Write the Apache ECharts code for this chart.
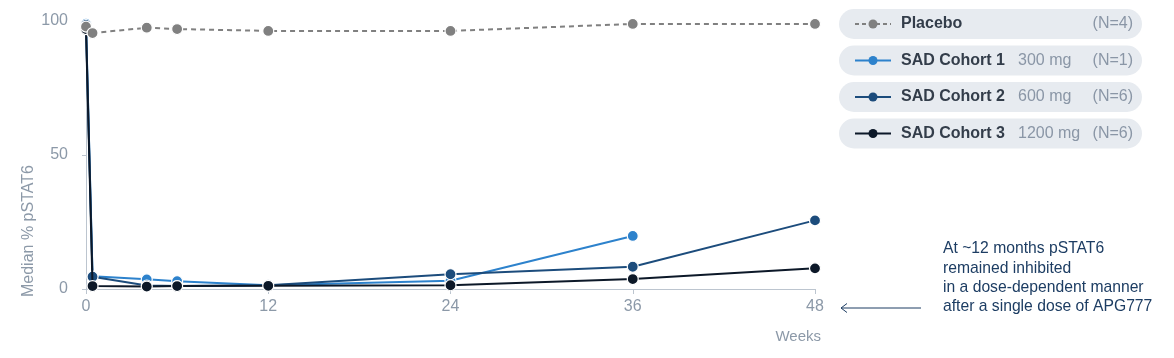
<!DOCTYPE html>
<html>
<head>
<meta charset="utf-8">
<script src="https://cdn.jsdelivr.net/npm/echarts@6/dist/echarts.min.js"></script>
<style>
html,body{margin:0;padding:0;background:#fff;}
#main{width:1174px;height:358px;}
</style>
</head>
<body>
<div id="main"></div>
<script>
// ---- data ----
const weeks = [0, 0.43, 4, 6, 12, 24, 36, 48];
const xTicks = [0, 12, 24, 36, 48];
const yTicks = [0, 50, 100];
const seriesNames = ['Placebo', 'SAD Cohort 1', 'SAD Cohort 2', 'SAD Cohort 3'];
const doses = ['', '300 mg', '600 mg', '1200 mg'];
const counts = ['(N=4)', '(N=1)', '(N=6)', '(N=6)'];
const placebo = [97.9, 95.5, 97.5, 97.0, 96.3, 96.3, 98.9, 98.9];
const cohort1 = [99.0, 4.8, 3.6, 2.9, 1.4, 3.1, 19.8, null];
const cohort2 = [98.5, 4.6, 1.3, 1.1, 1.4, 5.5, 8.3, 25.6];
const cohort3 = [97.0, 1.1, 0.9, 1.1, 1.2, 1.4, 3.7, 7.7];
const annotationLines = [
  'At ~12 months pSTAT6',
  'remained inhibited',
  'in a dose-dependent manner',
  'after a single dose of APG777'
];

// ---- styles ----
const FONT = '"Liberation Sans", Arial, sans-serif';
const colors = ['#808080', '#2d82cc', '#1c4c7c', '#0c1828'];
const axisGrey = '#8c99a8';
const lineGrey = '#bcc5cf';

function pairs(vals) {
  const out = [];
  vals.forEach((v, i) => { if (v !== null) out.push([weeks[i], v]); });
  return out;
}
const allVals = [placebo, cohort1, cohort2, cohort3];

const order = [1, 2, 3, 0];
const series = order.map(i => ({
  name: seriesNames[i],
  type: 'line',
  data: pairs(allVals[i]),
  symbol: 'circle',
  symbolSize: 11,
  z: 2 + (i === 0 ? 4 : i),
  lineStyle: { color: colors[i], width: 2, type: i === 0 ? [5, 4] : 'solid' },
  itemStyle: { color: colors[i], borderColor: '#fff', borderWidth: 1.2 },
  emphasis: { disabled: true },
  animation: false
}));

// legend pills as graphics
const graphics = [];
const pillX = 839, pillY0 = 9, pillW = 303, pillH = 30, pillStep = 36.5;
seriesNames.forEach((name, i) => {
  const y = pillY0 + i * pillStep;
  const cy = y + pillH / 2;
  graphics.push({ type: 'rect', left: pillX, top: y, shape: { width: pillW, height: pillH, r: 15 }, style: { fill: '#e7ebf0' }, silent: true });
  graphics.push({ type: 'line', shape: { x1: 855, y1: cy, x2: 891, y2: cy },
    style: { stroke: colors[i], lineWidth: 2, lineDash: i === 0 ? [4, 3] : null }, silent: true });
  graphics.push({ type: 'circle', shape: { cx: 873, cy: cy, r: 4.5 }, style: { fill: colors[i] }, silent: true });
  graphics.push({ type: 'text', x: 901, y: cy, style: { text: name, font: 'bold 16px ' + FONT, fill: '#333d4a', textVerticalAlign: 'middle' }, silent: true });
  if (doses[i]) graphics.push({ type: 'text', x: 1018, y: cy, style: { text: doses[i], font: '16px ' + FONT, fill: '#8a96a6', textVerticalAlign: 'middle' }, silent: true });
  graphics.push({ type: 'text', x: 1133, y: cy, style: { text: counts[i], font: '16px ' + FONT, fill: '#8a96a6', textAlign: 'right', textVerticalAlign: 'middle' }, silent: true });
});
// annotation
annotationLines.forEach((t, k) => {
  graphics.push({ type: 'text', x: 943, y: 249 + k * 19.3, style: { text: t, font: '15.7px ' + FONT, fill: '#1d3d63', textVerticalAlign: 'middle' }, silent: true });
});
graphics.push({ type: 'line', shape: { x1: 841, y1: 308, x2: 921, y2: 308 }, style: { stroke: '#1d3d63', lineWidth: 1 }, silent: true });
graphics.push({ type: 'polyline', shape: { points: [[847, 303.5], [841, 308], [847, 312.5]] }, style: { stroke: '#1d3d63', lineWidth: 1, fill: null }, silent: true });
// axis titles
graphics.push({ type: 'text', x: 29, y: 297, rotation: Math.PI / 2, style: { text: 'Median % pSTAT6', font: '16px ' + FONT, fill: axisGrey, textAlign: 'left', textVerticalAlign: 'middle' }, silent: true });
graphics.push({ type: 'text', x: 821, y: 337, style: { text: 'Weeks', font: '15px ' + FONT, fill: axisGrey, textAlign: 'right', textVerticalAlign: 'middle' }, silent: true });

const chart = echarts.init(document.getElementById('main'), null, { renderer: 'canvas' });
chart.setOption({
  animation: false,
  backgroundColor: '#ffffff',
  textStyle: { fontFamily: FONT },
  grid: { left: 86, right: 359, top: 21, bottom: 69, containLabel: false },
  xAxis: {
    type: 'value', min: xTicks[0], max: xTicks[xTicks.length - 1], interval: 12,
    axisLine: { show: true, lineStyle: { color: lineGrey, width: 1 } },
    axisTick: { show: true, length: 5, lineStyle: { color: lineGrey } },
    splitLine: { show: false },
    axisLabel: { color: axisGrey, fontSize: 16, margin: 10, fontFamily: FONT }
  },
  yAxis: {
    type: 'value', min: yTicks[0], max: yTicks[yTicks.length - 1], interval: 50,
    axisLine: { show: true, lineStyle: { color: lineGrey, width: 1 } },
    axisTick: { show: true, length: 4, lineStyle: { color: lineGrey } },
    splitLine: { show: false },
    axisLabel: { color: axisGrey, fontSize: 16, margin: 18, fontFamily: FONT }
  },
  series: series,
  graphic: graphics
});
</script>
</body>
</html>
